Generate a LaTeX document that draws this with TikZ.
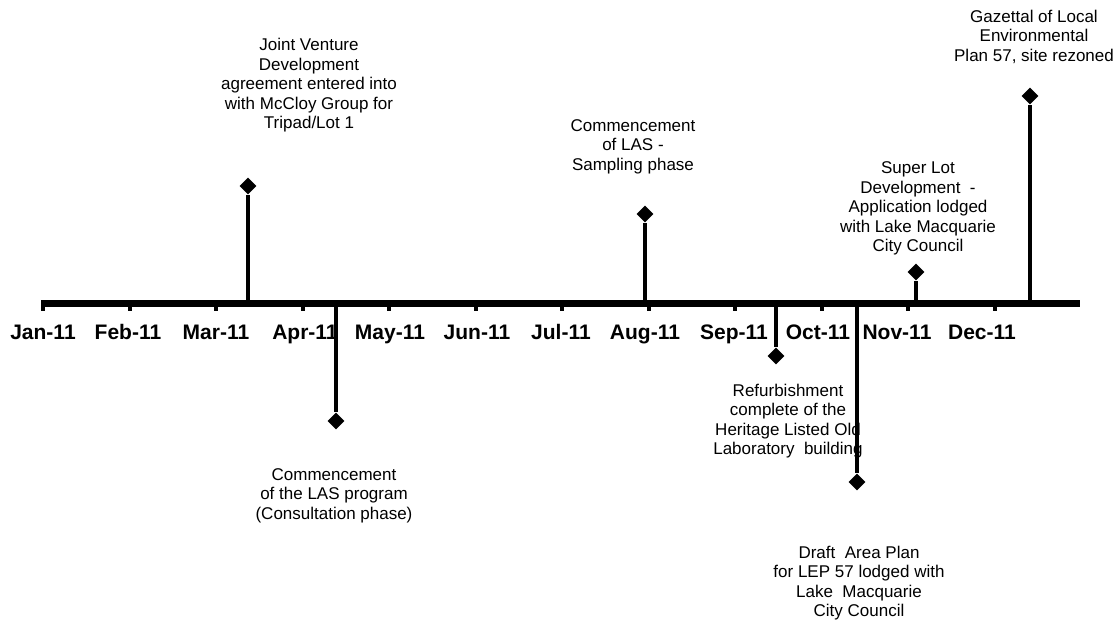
\documentclass[tikz,border=0pt]{standalone}
\usepackage{fontspec}
\setmainfont{Liberation Sans}
\usetikzlibrary{positioning, shapes.geometric}

\begin{document}
\begin{tikzpicture}[
  x=1pt, y=1pt,
  every node/.style={font=\fontsize{17}{19.5}\selectfont},
  event/.style={align=center, inner sep=0pt},
  month/.style={font=\fontsize{21}{24}\selectfont\bfseries, inner sep=0pt, anchor=base},
  marker/.style={diamond, fill=black, inner sep=0pt, minimum size=17pt},
  stem/.style={line width=3.5pt},
  axis/.style={line width=7pt}
]
  \useasboundingbox (0,0) rectangle (1120,-629);

  % Asse dei mesi
  \coordinate (axstart) at (41,-303);
  \coordinate (axend) at (1080,-303);
  \draw[axis] (axstart) -- (axend);
  \foreach \i in {0,...,11}
    \fill ({43+86.5*\i-2},-306) rectangle ++(4,-5);
  \foreach \m/\x [count=\i from 0] in {Jan/43,Feb/128,Mar/216,Apr/305,May/390,Jun/477,Jul/561,Aug/645,Sep/734,Oct/818,Nov/897,Dec/982}
    \node[month] (m\i) at (\x,-339) {\m-11};

  % Eventi sopra l'asse
  \coordinate (marA) at (248,-303);
  \node[marker] (marD) at (248,-186) {};
  \node[event] (marT) at (309,-85.5) {Joint Venture\\ Development\\ agreement entered into\\ with McCloy Group for\\ Tripad/Lot 1};

  \coordinate (augA) at (645,-303);
  \node[marker] (augD) at (645,-214) {};
  \node[event] (augT) at (633,-146.5) {Commencement\\ of LAS -\\ Sampling phase};

  \coordinate (novA) at (916,-303);
  \node[marker] (novD) at (916,-272) {};
  \node[event] (novT) at (918,-208.5) {Super Lot\\ Development\ \ -\\ Application lodged\\ with Lake Macquarie\\ City Council};

  \coordinate (decA) at (1030,-303);
  \node[marker] (decD) at (1030,-96) {};
  \node[event] (decT) at (1034,-36.5) {Gazettal of Local\\ Environmental\\ Plan 57, site rezoned};

  % Eventi sotto l'asse
  \coordinate (aprA) at (336,-303);
  \node[marker] (aprD) at (336,-421) {};
  \node[event] (aprT) at (334,-495.5) {Commencement\\ of the LAS program\\ (Consultation phase)};

  \coordinate (sepA) at (776,-303);
  \node[marker] (sepD) at (776,-356) {};
  \node[event] (sepT) at (788,-421) {Refurbishment\\ complete of the\\ Heritage Listed Old\\ Laboratory\ \ building};

  \coordinate (octA) at (857,-303);
  \node[marker] (octD) at (857,-482) {};
  \node[event] (octT) at (859,-583) {Draft\ \ Area Plan\\ for LEP 57 lodged with\\ Lake\ \ Macquarie\\ City Council};

  \foreach \e in {mar,aug,nov,dec,apr,sep,oct}
    \draw[stem] (\e A) -- (\e D);

\end{tikzpicture}
\end{document}
